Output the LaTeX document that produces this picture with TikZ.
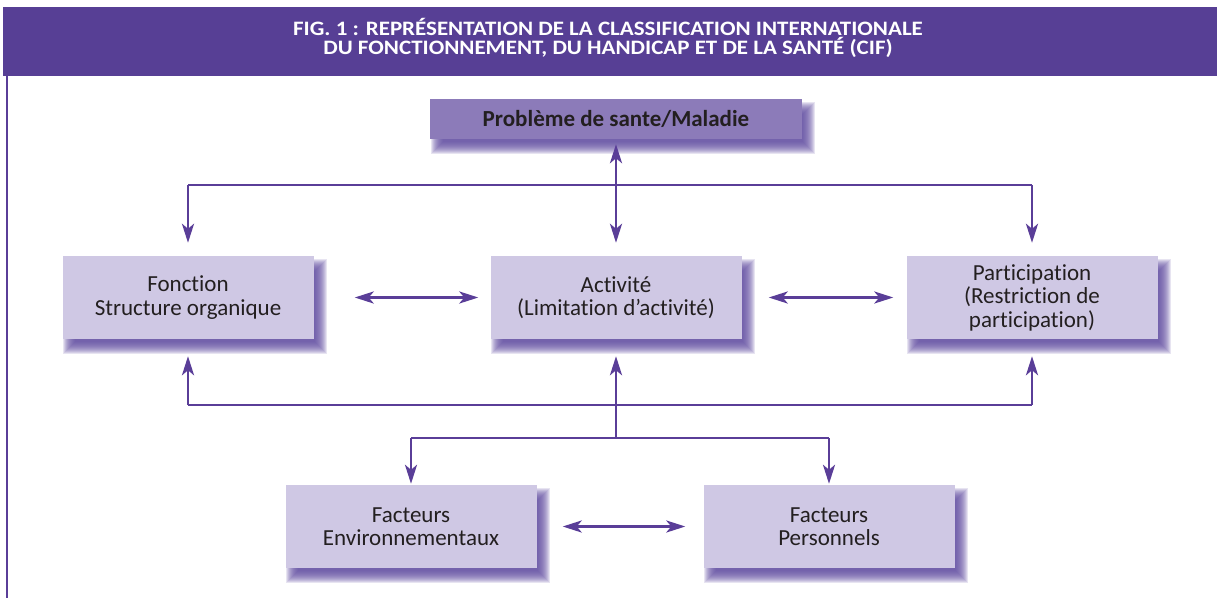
\documentclass[tikz,border=0pt]{standalone}
\usepackage{fontspec}
\setmainfont[Ligatures=NoCommon]{Carlito}
\newfontfamily\headfont[FakeStretch=1.12,Ligatures=NoCommon]{Carlito}
\usetikzlibrary{arrows.meta,backgrounds}
\definecolor{band}{HTML}{573F95}
\definecolor{lin}{HTML}{5A3E98}
\definecolor{boxfill}{HTML}{CFC8E4}
\definecolor{topfill}{HTML}{8C7BB9}
\definecolor{shad}{HTML}{6450A3}
\definecolor{txt}{HTML}{231F20}
\tikzset{
  mybox/.style={rectangle, fill=boxfill, minimum width=251, minimum height=83, inner sep=0,
    align=center, text=txt, font=\fontsize{23}{23.5}\selectfont},
  topbox/.style={rectangle, fill=topfill, minimum width=372, minimum height=40, inner sep=0,
    align=center, text=txt, font=\fontsize{23}{23}\selectfont\bfseries},
  conn/.style={draw=lin, line width=2.8pt},
  tip/.style={-{Stealth[length=19pt, width=12pt, inset=5pt]}},
  dtip/.style={{Stealth[length=19pt, width=12pt, inset=5pt]}-{Stealth[length=19pt, width=12pt, inset=5pt]}}
}
\newcommand\mysh[1]{%
  \foreach \k in {0,...,12}{%
    \fill[shad, fill opacity=0.15]
      ([xshift={7pt-(\k-6)*1pt}, yshift={-9pt-(\k-6)*1pt}]#1.south west) rectangle
      ([xshift={7pt+(\k-6)*1pt}, yshift={-9pt+(\k-6)*1pt}]#1.north east);
  }%
}
\begin{document}
\begin{tikzpicture}[x=1pt,y=-1pt]
\useasboundingbox (0,0) rectangle (1217,598);
% header
\fill[band] (3,7) rectangle (1217,76);
\node[text=white, align=center, font=\headfont\fontsize{20.5}{17}\selectfont\bfseries] (title) at (608,38)
  {FIG. 1 : REPRÉSENTATION DE LA CLASSIFICATION INTERNATIONALE\\DU FONCTIONNEMENT, DU HANDICAP ET DE LA SANTÉ (CIF)};
\draw[lin, line width=2.4pt] (7,76) -- (7,598);
% nodes
\node[topbox] (pb) at (616,119) {Problème de sante/Maladie};
\node[mybox] (fo) at (188,297.5) {Fonction\\Structure organique};
\node[mybox] (ac) at (616,297.5) {Activité\\(Limitation d’activité)};
\node[mybox] (pa) at (1032,297.5) {Participation\\(Restriction de\\participation)};
\node[mybox] (fe) at (411,526.5) {Facteurs\\Environnementaux};
\node[mybox] (fp) at (829,526.5) {Facteurs\\Personnels};
\begin{pgfonlayer}{background}
\fill[white] (0,0) rectangle (1217,598);
\mysh{pb}\mysh{fo}\mysh{ac}\mysh{pa}\mysh{fe}\mysh{fp}
\end{pgfonlayer}
% helper levels
\coordinate (h1) at (0,185);
\coordinate (h2) at (0,405);
\coordinate (h3) at (0,438);
% top distribution
\draw[conn, dtip, shorten <=5pt, shorten >=13pt] (pb.south) -- (ac.north);
\draw[conn] (fo.north |- h1) -- (pa.north |- h1);
\draw[conn, tip, shorten >=13pt] (fo.north |- h1) -- (fo.north);
\draw[conn, tip, shorten >=13pt] (pa.north |- h1) -- (pa.north);
% horizontal double arrows
\draw[conn, dtip, shorten <=41pt, shorten >=12pt] (fo.east) -- (ac.west);
\draw[conn, dtip, shorten <=27pt, shorten >=13pt] (ac.east) -- (pa.west);
% bottom
\draw[conn] (fo.south |- h2) -- (pa.south |- h2);
\draw[conn, tip, shorten >=17pt] (fo.south |- h2) -- (fo.south);
\draw[conn, tip, shorten >=17pt] (pa.south |- h2) -- (pa.south);
\draw[conn, tip, shorten >=17pt] (ac.south |- h3) -- (ac.south);
\draw[conn] (fe.north |- h3) -- (fp.north |- h3);
\draw[conn, tip, shorten >=1pt] (fe.north |- h3) -- (fe.north);
\draw[conn, tip, shorten >=1pt] (fp.north |- h3) -- (fp.north);
\draw[conn, dtip, shorten <=26pt, shorten >=18pt] (fe.east) -- (fp.west);
\end{tikzpicture}
\end{document}
